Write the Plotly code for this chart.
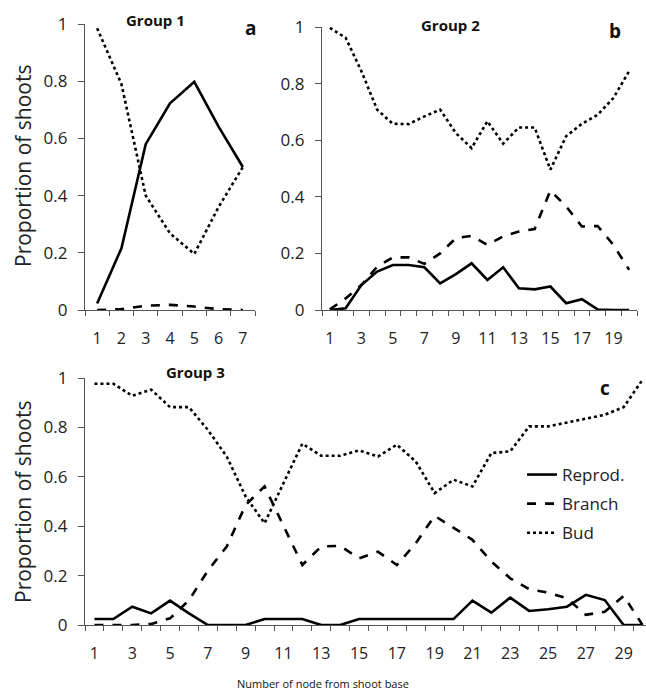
import plotly.graph_objects as go

# ---- data ----
nodes_g1 = list(range(1, 8))
g1_reprod = [0.023, 0.216, 0.58, 0.723, 0.798, 0.641, 0.50]
g1_branch = [0.0, 0.003, 0.015, 0.018, 0.012, 0.003, 0.0]
g1_bud = [0.985, 0.79, 0.40, 0.268, 0.196, 0.36, 0.50]

nodes_g2 = list(range(1, 21))
g2_reprod = [0.0, 0.006, 0.088, 0.136, 0.159, 0.159, 0.151, 0.094, 0.127, 0.165,
             0.106, 0.151, 0.077, 0.073, 0.083, 0.024, 0.038, 0.002, 0.0, 0.0]
g2_branch = [0.002, 0.041, 0.088, 0.153, 0.186, 0.186, 0.163, 0.20, 0.254, 0.262,
             0.23, 0.26, 0.277, 0.286, 0.422, 0.366, 0.295, 0.297, 0.23, 0.142]
g2_bud = [0.997, 0.962, 0.844, 0.708, 0.658, 0.657, 0.684, 0.708, 0.625, 0.572,
          0.667, 0.588, 0.645, 0.645, 0.496, 0.614, 0.658, 0.69, 0.749, 0.844]

nodes_g3 = list(range(1, 31))
g3_reprod = [0.024, 0.024, 0.074, 0.047, 0.099, 0.047, 0.0, 0.0, 0.0, 0.024,
             0.024, 0.024, 0.0, 0.0, 0.024, 0.024, 0.024, 0.024, 0.024, 0.024,
             0.099, 0.05, 0.111, 0.057, 0.064, 0.074, 0.122, 0.101, 0.0, 0.0]
g3_branch = [0.0, 0.0, 0.0, 0.004, 0.027, 0.10, 0.22, 0.318, 0.486, 0.561,
             0.40, 0.243, 0.318, 0.32, 0.27, 0.297, 0.243, 0.331, 0.442, 0.392,
             0.345, 0.257, 0.189, 0.145, 0.131, 0.108, 0.041, 0.054, 0.118, 0.0]
g3_bud = [0.977, 0.977, 0.928, 0.953, 0.882, 0.882, 0.79, 0.682, 0.52, 0.412,
          0.574, 0.734, 0.685, 0.685, 0.707, 0.682, 0.73, 0.662, 0.534, 0.588,
          0.561, 0.696, 0.703, 0.804, 0.804, 0.82, 0.838, 0.851, 0.882, 0.993]

series_names = ["Reprod.", "Branch", "Bud"]
dashes = ["solid", "dash", "dot"]
y_ticks = [0, 0.2, 0.4, 0.6, 0.8, 1]
y_ticktext = ["0", "0.2", "0.4", "0.6", "0.8", "1"]

W, H = 646, 693
FONT = "Open Sans"
AX = "#555555"

fig = go.Figure()

panels = [
    ("x", "y", nodes_g1, [g1_reprod, g1_branch, g1_bud], False),
    ("x2", "y2", nodes_g2, [g2_reprod, g2_branch, g2_bud], False),
    ("x3", "y3", nodes_g3, [g3_reprod, g3_branch, g3_bud], True),
]
for xa, ya, nodes, ser, show in panels:
    for name, dash, vals in zip(series_names, dashes, ser):
        fig.add_trace(go.Scatter(
            x=nodes, y=vals, mode="lines", name=name,
            line=dict(color="black", width=2.6, dash=dash),
            xaxis=xa, yaxis=ya, showlegend=show, legendgroup=name,
            hoverinfo="skip"))

def px_x(p):
    return p / W

def px_y(p):
    return 1 - p / H

def xaxis_cfg(dom, nodes, step, rng):
    return dict(
        domain=dom, range=rng, showgrid=False, zeroline=False, automargin=False,
        showline=True, linecolor=AX, linewidth=1.3,
        tickvals=nodes[::step], ticktext=[str(n) for n in nodes[::step]],
        ticks="", ticklabelstandoff=14,
        tickfont=dict(family=FONT, size=16, color="#222"),
        minor=dict(tickvals=[n - 0.5 for n in nodes] + [nodes[-1] + 0.5],
                   ticks="outside", ticklen=5, tickwidth=1.3, tickcolor=AX),
        fixedrange=True)

def yaxis_cfg(dom, anchor):
    return dict(
        domain=dom, range=[0, 1], anchor=anchor, showgrid=False, zeroline=False,
        automargin=False, showline=True, linecolor=AX, linewidth=1.3,
        tickvals=y_ticks, ticktext=y_ticktext, ticks="outside", ticklen=6,
        tickwidth=1.3, tickcolor=AX, ticklabelstandoff=7,
        tickfont=dict(family=FONT, size=17, color="#222"), fixedrange=True)

fig.update_layout(
    width=W, height=H, margin=dict(l=0, r=0, t=0, b=0, pad=0, autoexpand=False),
    paper_bgcolor="white", plot_bgcolor="white",
    xaxis=xaxis_cfg([px_x(85), px_x(255)], nodes_g1, 1, [0.5, 7.5]),
    yaxis=yaxis_cfg([px_y(310), px_y(24)], "x"),
    xaxis2=xaxis_cfg([px_x(322), px_x(637)], nodes_g2, 2, [0.5, 20.5]) | dict(anchor="y2"),
    yaxis2=yaxis_cfg([px_y(310), px_y(27)], "x2"),
    xaxis3=xaxis_cfg([px_x(85), 1.0], nodes_g3, 2, [0.5, 0.5 + 561 / 18.9]) | dict(anchor="y3"),
    yaxis3=yaxis_cfg([px_y(625), px_y(378)], "x3"),
    legend=dict(x=px_x(522), y=px_y(457), xanchor="left", yanchor="top",
                font=dict(family=FONT, size=17, color="#222"),
                bgcolor="rgba(0,0,0,0)", tracegroupgap=4, itemwidth=30),
    showlegend=True,
)

annots = [
    dict(text="<b>Group 1</b>", x=px_x(155), y=px_y(20), size=15),
    dict(text="<b>a</b>", x=px_x(250), y=px_y(28), size=19),
    dict(text="<b>Group 2</b>", x=px_x(450), y=px_y(25), size=15),
    dict(text="<b>b</b>", x=px_x(615), y=px_y(31), size=19),
    dict(text="<b>Group 3</b>", x=px_x(195), y=px_y(372), size=15),
    dict(text="<b>c</b>", x=px_x(605), y=px_y(388), size=19),
    dict(text="Number of node from shoot base", x=px_x(323), y=px_y(683), size=11),
]
for a in annots:
    fig.add_annotation(text=a["text"], x=a["x"], y=a["y"], xref="paper", yref="paper",
                       showarrow=False, xanchor="center", yanchor="middle",
                       font=dict(family=FONT, size=a["size"], color="#111"))
for yc in (166, 502):
    fig.add_annotation(text="Proportion of shoots", x=px_x(23), y=px_y(yc),
                       xref="paper", yref="paper", showarrow=False, textangle=-90,
                       xanchor="center", yanchor="middle",
                       font=dict(family=FONT, size=21, color="#222"))

fig.write_html("out.html", post_script="document.body.style.margin='0px';",
               config={"displayModeBar": False})
